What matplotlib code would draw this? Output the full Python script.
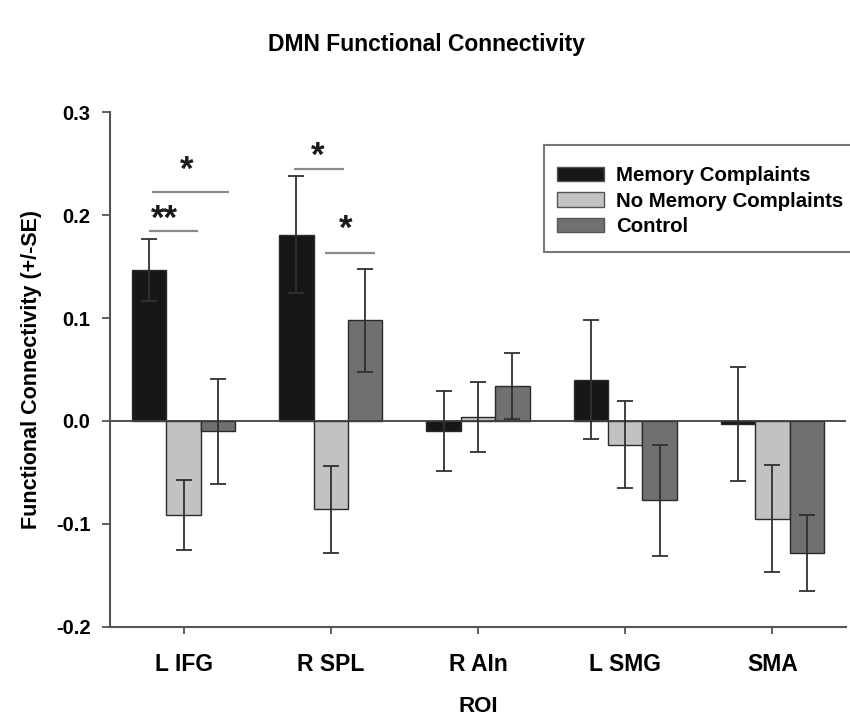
import matplotlib
matplotlib.use("Agg")
import matplotlib.pyplot as plt
import numpy as np
from matplotlib.patches import Patch, Rectangle

plt.rcParams['font.family'] = ['Liberation Sans', 'DejaVu Sans']
plt.rcParams['font.weight'] = 'bold'

categories = ['L IFG', 'R SPL', 'R AIn', 'L SMG', 'SMA']
series_names = ['Memory Complaints', 'No Memory Complaints', 'Control']
mc = [0.147, 0.181, -0.010, 0.040, -0.003]
mc_se = [0.030, 0.057, 0.039, 0.058, 0.055]
nmc = [-0.091, -0.086, 0.004, -0.023, -0.095]
nmc_se = [0.034, 0.042, 0.034, 0.042, 0.052]
ctl = [-0.010, 0.098, 0.034, -0.077, -0.128]
ctl_se = [0.051, 0.050, 0.032, 0.054, 0.037]
colors = ['#161816', '#c0c3c0', '#6f716f']

# significance brackets
sig_x0 = [-0.238, -0.218, 0.748, 0.959]
sig_x1 = [0.100, 0.306, 1.088, 1.300]
sig_y = [0.185, 0.223, 0.245, 0.163]
sig_labels = ['**', '*', '*', '*']
sig_lx = [-0.127, 0.022, 0.912, 1.101]
sig_ly = [0.187, 0.234, 0.248, 0.177]

fig = plt.figure(figsize=(8.5, 7.26), dpi=100)
ax = fig.add_axes([110/850, 1-626.7/726, (846-110)/850, (626.7-112.3)/726])

x = np.arange(len(categories))
w = 0.234
vals = [mc, nmc, ctl]
ses = [mc_se, nmc_se, ctl_se]
for i, (v, s, c) in enumerate(zip(vals, ses, colors)):
    pos = x + (i - 1) * w
    ax.bar(pos, v, width=w, color=c, edgecolor='#2a2a2a', linewidth=1.0, zorder=2,
           label=series_names[i])
    ax.errorbar(pos, v, yerr=s, fmt='none', ecolor='#303030', elinewidth=1.3,
                capsize=5.5, capthick=1.3, zorder=3)

ax.axhline(0, color='#404040', lw=1.3, zorder=2.5)

for x0, x1, y, lab, lx, ly in zip(sig_x0, sig_x1, sig_y, sig_labels, sig_lx, sig_ly):
    ax.plot([x0, x1], [y, y], color='#8a8a8a', lw=1.6, solid_capstyle='butt')
    ax.text(lx, ly, lab, ha='center', va='baseline', fontsize=25, color='#1a1a1a')

ax.set_xlim(-0.5, 4.5)
ax.set_ylim(-0.2, 0.3)
ax.set_yticks([-0.2, -0.1, 0.0, 0.1, 0.2, 0.3])
ax.set_yticklabels(['-0.2', '-0.1', '0.0', '0.1', '0.2', '0.3'])
ax.set_xticks(x)
ax.set_xticklabels(categories)
ax.tick_params(axis='y', direction='out', length=6, width=1.3, color='#555555',
               labelsize=14.5, pad=8)
ax.tick_params(axis='x', direction='out', length=5, width=1.3, color='#555555',
               labelsize=16.5, pad=14)
for sp in ['top', 'right']:
    ax.spines[sp].set_visible(False)
for sp in ['left', 'bottom']:
    ax.spines[sp].set_color('#555555')
    ax.spines[sp].set_linewidth(1.5)

ax.set_ylabel('Functional Connectivity (+/-SE)', fontsize=15.5, fontweight='bold', labelpad=10)
ax.set_xlabel('ROI', fontsize=16, fontweight='bold', labelpad=14)

fig.text(426/850, 1-45/726, 'DMN Functional Connectivity', ha='center', va='center',
         fontsize=16.5, fontweight='bold')

# legend frame (extends past right edge of figure as in the reference)
frame = Rectangle((544/850, 1-252/726), 420/850, 107/726, transform=fig.transFigure,
                  facecolor='white', edgecolor='#777777', linewidth=1.5, zorder=4)
fig.patches.append(frame)

handles = [Patch(facecolor=c, edgecolor='#555555', linewidth=1.0) for c in colors]
leg = fig.legend(handles, series_names, loc='upper left',
                 bbox_to_anchor=(557/850, 1-166/726), borderaxespad=0,
                 fontsize=14.7, frameon=False,
                 handlelength=2.3, handleheight=0.7, handletextpad=0.6,
                 labelspacing=0.33, borderpad=0)
leg.set_zorder(5)
for t in leg.get_texts():
    t.set_fontweight('bold')

fig.savefig('out.png', dpi=100)
